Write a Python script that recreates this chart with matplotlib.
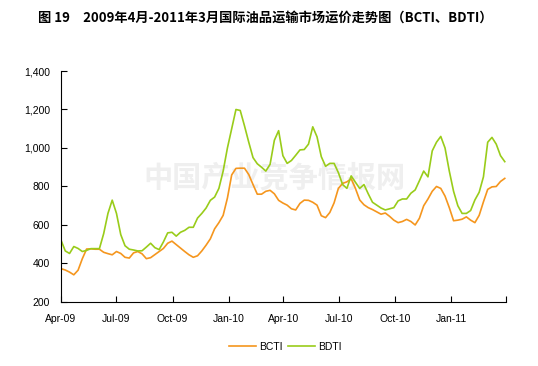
import pandas as pd
import matplotlib
matplotlib.use('Agg')
import matplotlib.pyplot as plt
import matplotlib.dates as mdates

plt.rcParams['font.family'] = ['Liberation Sans', 'DejaVu Sans']

# weekly index values, Apr 2009 - Mar 2011
dates = pd.date_range('2009-04-01', periods=105, freq='7D')
bcti = [373, 366, 355, 341, 365, 425, 475, 476, 474, 474,
        458, 451, 445, 462, 452, 432, 428, 455, 462, 450,
        425, 430, 446, 462, 478, 505, 516, 498, 480, 462,
        445, 432, 440, 465, 495, 528, 580, 612, 650, 740,
        860, 894, 895, 895, 862, 810, 760, 760, 775, 780,
        762, 728, 714, 703, 684, 678, 712, 729, 728, 718,
        703, 648, 638, 665, 715, 790, 816, 824, 840, 790,
        730, 705, 690, 680, 668, 656, 662, 645, 625, 612,
        618, 629, 618, 600, 635, 700, 735, 775, 800, 790,
        750, 690, 622, 625, 630, 642, 625, 612, 650, 720,
        785, 798, 800, 826, 842]
bdti = [521, 465, 452, 488, 478, 462, 468, 477, 477, 477,
        555, 660, 729, 660, 550, 492, 474, 470, 465, 466,
        485, 505, 482, 472, 512, 559, 562, 542, 562, 572,
        588, 588, 636, 660, 688, 728, 745, 790, 880, 1000,
        1100, 1200, 1195, 1115, 1030, 950, 918, 900, 880, 915,
        1040, 1090, 960, 920, 935, 962, 990, 992, 1020, 1110,
        1058, 955, 905, 920, 920, 872, 810, 790, 855, 822,
        790, 810, 762, 718, 703, 688, 678, 684, 690, 725,
        735, 735, 765, 782, 830, 880, 850, 985, 1030, 1060,
        1000, 880, 775, 700, 660, 660, 675, 730, 770, 850,
        1030, 1055, 1020, 960, 929]

title = '图 19　2009年4月-2011年3月国际油品运输市场运价走势图（BCTI、BDTI）'

fig = plt.figure(figsize=(5.38, 3.66), dpi=100)
ax = fig.add_axes([0.1134, 0.175, 0.8271, 0.631])

ax.plot(dates, bcti, color='#F5961E', lw=1.2, label='BCTI')
ax.plot(dates, bdti, color='#99CC1A', lw=1.2, label='BDTI')

# faint watermark
ax.text(0.48, 0.54, '中国产业竞争情报网', transform=ax.transAxes, ha='center', va='center',
        fontsize=21, color='#efefef', family=['Noto Sans CJK SC'], fontweight='bold', zorder=0)

ax.set_xlim(pd.Timestamp('2009-04-01'), pd.Timestamp('2011-04-01'))
ax.set_ylim(200, 1400)
ax.set_yticks(range(200, 1401, 200))
ax.yaxis.set_major_formatter(matplotlib.ticker.FuncFormatter(lambda v, p: f'{int(v):,}'))
ax.xaxis.set_major_locator(mdates.MonthLocator(bymonth=[1, 4, 7, 10]))
ax.xaxis.set_major_formatter(mdates.DateFormatter('%b-%y'))
ax.tick_params(direction='in', length=4, width=0.8, labelsize=7.5)
ax.tick_params(axis='y', pad=8)
ax.tick_params(axis='x', pad=9)
for s in ['top', 'right']:
    ax.spines[s].set_visible(False)
for s in ['left', 'bottom']:
    ax.spines[s].set_linewidth(0.8)

fig.canvas.draw()
for t in ax.get_xticklabels() + ax.get_yticklabels():
    t.set_fontfamily('Liberation Sans')
ax.get_xticklabels()[-1].set_visible(False)

fig.text(0.493, 0.953, title, ha='center', va='center', fontsize=9.5, fontweight='bold',
         family=['Noto Sans CJK SC', 'DejaVu Sans'])

leg = fig.legend(loc='center', bbox_to_anchor=(0.53, 0.052), ncol=2, frameon=False,
                 fontsize=7.5, handlelength=2.6, handletextpad=0.3, columnspacing=0.5)
for t in leg.get_texts():
    t.set_fontfamily('Liberation Sans')

fig.savefig('out.png', dpi=100)
